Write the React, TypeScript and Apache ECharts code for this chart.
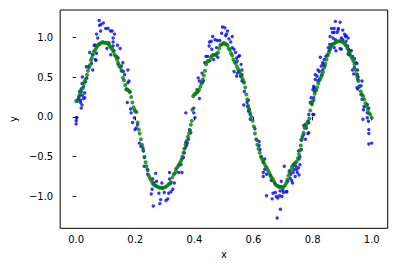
import React, { useEffect, useRef } from "react";
import * as echarts from "echarts";

// Noisy samples (blue)
const noisyPoints: number[][] = [
  [0.000,-0.01],[0.000,-0.05],[0.000,-0.09],[0.003,-0.01],[0.006,0.22],[0.009,0.24],[0.012,0.27],[0.012,0.32],
  [0.015,0.21],[0.015,0.18],[0.017,0.35],[0.017,0.11],[0.020,0.15],[0.020,0.42],[0.021,0.50],[0.021,0.27],
  [0.025,0.38],[0.025,0.23],[0.029,0.30],[0.029,0.24],[0.032,0.44],[0.034,0.63],[0.036,0.49],[0.042,0.63],
  [0.046,0.81],[0.052,0.67],[0.056,0.78],[0.056,0.59],[0.061,0.90],[0.065,0.90],[0.065,0.72],[0.067,0.71],
  [0.069,1.04],[0.069,0.80],[0.073,0.99],[0.078,1.21],[0.079,1.15],[0.083,1.08],[0.084,1.16],[0.092,1.18],
  [0.100,1.11],[0.104,0.86],[0.108,1.11],[0.111,0.93],[0.116,1.08],[0.117,0.78],[0.122,1.08],[0.125,0.99],
  [0.125,0.94],[0.125,0.89],[0.128,0.83],[0.130,1.04],[0.137,0.76],[0.142,0.74],[0.140,0.90],[0.149,0.86],
  [0.142,0.66],[0.153,0.64],[0.153,0.58],[0.158,0.68],[0.160,0.57],[0.164,0.53],[0.170,0.34],[0.175,0.59],
  [0.175,0.43],[0.179,0.45],[0.181,0.32],[0.173,0.18],[0.184,0.10],[0.186,0.05],[0.191,-0.07],[0.197,-0.01],
  [0.199,-0.16],[0.203,-0.14],[0.208,-0.10],[0.214,-0.33],[0.219,-0.37],[0.226,-0.39],[0.228,-0.43],[0.231,-0.51],
  [0.230,-0.62],[0.241,-0.66],[0.242,-0.72],[0.254,-0.97],[0.257,-0.91],[0.259,-0.78],[0.261,-1.12],[0.263,-0.83],
  [0.269,-0.87],[0.269,-0.71],[0.272,-0.81],[0.280,-0.96],[0.283,-1.09],[0.286,-1.04],[0.290,-0.83],[0.292,-0.89],
  [0.298,-0.95],[0.304,-1.05],[0.310,-1.03],[0.313,-0.96],[0.316,-0.70],[0.316,-0.78],[0.321,-0.94],[0.327,-0.91],
  [0.319,-0.83],[0.332,-0.83],[0.338,-0.65],[0.347,-0.70],[0.347,-0.60],[0.355,-0.60],[0.358,-0.53],[0.358,-0.70],
  [0.363,-0.51],[0.366,-0.45],[0.369,-0.39],[0.371,-0.32],[0.374,-0.36],[0.376,-0.33],[0.380,-0.28],[0.371,0.05],
  [0.384,-0.16],[0.388,-0.20],[0.398,0.05],[0.398,0.11],[0.402,-0.01],[0.409,0.34],[0.413,0.49],[0.417,0.23],
  [0.417,0.45],[0.426,0.43],[0.431,0.45],[0.426,0.55],[0.435,0.68],[0.439,0.76],[0.445,0.76],[0.450,0.89],
  [0.451,0.94],[0.457,0.95],[0.459,0.85],[0.462,1.01],[0.465,0.72],[0.470,0.97],[0.473,0.78],[0.475,0.87],
  [0.478,0.96],[0.479,0.75],[0.486,0.96],[0.492,1.05],[0.495,1.13],[0.503,1.12],[0.506,1.02],[0.512,1.08],
  [0.508,1.04],[0.517,0.98],[0.523,0.94],[0.528,1.01],[0.528,0.87],[0.534,0.85],[0.539,0.81],[0.543,0.74],
  [0.545,0.70],[0.550,0.76],[0.553,0.77],[0.534,0.57],[0.543,0.51],[0.545,0.55],[0.550,0.57],[0.556,0.51],
  [0.558,0.66],[0.561,0.59],[0.561,0.53],[0.561,0.45],[0.567,0.44],[0.569,0.32],[0.567,0.15],[0.578,0.18],
  [0.583,0.21],[0.580,0.13],[0.586,0.09],[0.583,0.07],[0.589,0.03],[0.589,-0.03],[0.605,-0.15],[0.611,-0.29],
  [0.619,-0.31],[0.619,-0.36],[0.622,-0.41],[0.627,-0.50],[0.638,-0.53],[0.633,-0.57],[0.638,-0.66],[0.633,-0.70],
  [0.633,-0.75],[0.644,-0.72],[0.657,-0.74],[0.660,-0.80],[0.666,-0.96],[0.671,-0.83],[0.644,-0.99],[0.663,-1.03],
  [0.674,-0.95],[0.677,-1.00],[0.682,-1.02],[0.688,-0.99],[0.680,-1.27],[0.691,-1.16],[0.690,-0.93],[0.699,-0.92],
  [0.701,-0.95],[0.710,-0.94],[0.686,-0.87],[0.696,-1.00],[0.694,-0.81],[0.704,-0.62],[0.713,-0.94],[0.716,-0.81],
  [0.721,-0.68],[0.724,-0.77],[0.726,-0.72],[0.729,-0.80],[0.732,-0.83],[0.734,-0.70],[0.737,-0.66],[0.735,-0.60],
  [0.741,-0.75],[0.743,-0.62],[0.746,-0.66],[0.748,-0.70],[0.752,-0.64],[0.754,-0.73],[0.752,-0.43],[0.754,-0.53],
  [0.757,-0.50],[0.757,-0.60],[0.762,-0.41],[0.761,-0.29],[0.765,-0.26],[0.770,-0.22],[0.776,-0.28],[0.784,-0.21],
  [0.787,-0.20],[0.774,-0.10],[0.779,-0.14],[0.770,-0.11],[0.784,-0.055],[0.787,-0.075],[0.787,0.03],[0.801,0.03],
  [0.804,0.03],[0.792,0.18],[0.798,0.155],[0.795,0.24],[0.804,0.24],[0.801,0.34],[0.807,0.32],[0.812,0.34],
  [0.804,0.385],[0.804,0.365],[0.809,0.47],[0.809,0.53],[0.815,0.51],[0.818,0.45],[0.823,0.47],[0.818,0.59],
  [0.823,0.57],[0.829,0.64],[0.834,0.59],[0.831,0.53],[0.834,0.68],[0.839,0.72],[0.826,0.75],[0.836,0.66],
  [0.842,0.64],[0.845,0.76],[0.850,0.78],[0.856,0.83],[0.853,0.87],[0.861,0.87],[0.864,0.91],[0.858,0.91],
  [0.859,1.01],[0.864,1.11],[0.867,1.06],[0.869,0.99],[0.873,1.11],[0.873,1.06],[0.877,0.97],[0.873,0.87],
  [0.877,1.20],[0.886,1.09],[0.883,1.06],[0.893,1.19],[0.887,1.11],[0.879,0.83],[0.893,0.86],[0.897,0.99],
  [0.897,0.85],[0.902,0.97],[0.902,1.09],[0.908,1.04],[0.911,1.01],[0.913,0.95],[0.914,1.02],[0.919,0.89],
  [0.920,0.99],[0.921,0.85],[0.920,0.79],[0.924,0.78],[0.926,0.83],[0.931,0.83],[0.935,0.76],[0.935,0.59],
  [0.939,0.54],[0.941,0.62],[0.942,0.73],[0.946,0.68],[0.950,0.67],[0.952,0.59],[0.952,0.53],[0.954,0.50],
  [0.953,0.47],[0.953,0.35],[0.958,0.385],[0.950,0.365],[0.967,0.45],[0.964,0.39],[0.963,0.28],[0.967,0.22],
  [0.974,0.13],[0.972,0.09],[0.985,0.155],[0.990,0.11],[0.985,0.05],[0.970,-0.03],[0.985,-0.01],[0.989,-0.055],
  [0.990,-0.16],[0.990,-0.21],[0.990,-0.34],[1.000,-0.33],
];

// Smoothed samples (green)
const smoothPoints: number[][] = [
  [0.000,0.20],[0.005,0.20],[0.010,0.26],[0.014,0.30],[0.018,0.32],[0.022,0.36],[0.026,0.42],[0.029,0.45],
  [0.033,0.48],[0.037,0.53],[0.040,0.58],[0.043,0.62],[0.046,0.65],[0.050,0.71],[0.053,0.74],[0.056,0.78],
  [0.060,0.82],[0.064,0.84],[0.068,0.87],[0.072,0.89],[0.076,0.91],[0.080,0.92],[0.085,0.93],[0.090,0.94],
  [0.095,0.93],[0.100,0.93],[0.105,0.93],[0.110,0.91],[0.114,0.89],[0.118,0.87],[0.122,0.85],[0.126,0.82],
  [0.130,0.78],[0.134,0.76],[0.138,0.72],[0.142,0.68],[0.146,0.64],[0.150,0.62],[0.154,0.58],[0.158,0.49],
  [0.162,0.46],[0.166,0.40],[0.170,0.35],[0.174,0.34],[0.178,0.33],[0.182,0.31],[0.186,0.25],[0.190,0.18],
  [0.194,0.12],[0.197,0.09],[0.200,0.07],[0.204,0.06],[0.208,-0.07],[0.212,-0.16],[0.215,-0.21],[0.219,-0.28],
  [0.223,-0.35],[0.227,-0.42],[0.231,-0.50],[0.235,-0.57],[0.238,-0.62],[0.242,-0.67],[0.246,-0.74],[0.250,-0.77],
  [0.254,-0.80],[0.258,-0.83],[0.262,-0.85],[0.267,-0.86],[0.272,-0.87],[0.277,-0.88],[0.282,-0.89],[0.287,-0.89],
  [0.292,-0.89],[0.297,-0.89],[0.302,-0.88],[0.307,-0.87],[0.312,-0.85],[0.317,-0.84],[0.321,-0.82],[0.326,-0.76],
  [0.330,-0.72],[0.334,-0.71],[0.338,-0.68],[0.343,-0.63],[0.347,-0.61],[0.351,-0.58],[0.355,-0.55],[0.359,-0.50],
  [0.363,-0.45],[0.366,-0.40],[0.370,-0.35],[0.374,-0.30],[0.378,-0.25],[0.382,-0.21],[0.385,-0.17],[0.388,-0.10],
  [0.391,-0.05],[0.393,0.09],[0.396,0.26],[0.400,0.28],[0.404,0.29],[0.408,0.31],[0.412,0.32],[0.416,0.34],
  [0.420,0.38],[0.424,0.42],[0.428,0.47],[0.432,0.52],[0.436,0.58],[0.440,0.66],[0.444,0.70],[0.448,0.70],
  [0.452,0.71],[0.456,0.75],[0.460,0.77],[0.465,0.78],[0.470,0.78],[0.475,0.79],[0.480,0.81],[0.484,0.86],
  [0.488,0.90],[0.492,0.91],[0.496,0.92],[0.500,0.93],[0.504,0.92],[0.508,0.91],[0.512,0.90],[0.516,0.86],
  [0.520,0.84],[0.524,0.80],[0.528,0.77],[0.532,0.72],[0.536,0.69],[0.540,0.67],[0.544,0.63],[0.548,0.60],
  [0.552,0.57],[0.556,0.54],[0.560,0.50],[0.564,0.47],[0.568,0.43],[0.572,0.37],[0.576,0.28],[0.579,0.22],
  [0.582,0.14],[0.585,0.10],[0.589,0.05],[0.593,0.00],[0.597,-0.05],[0.601,-0.12],[0.605,-0.21],[0.609,-0.28],
  [0.613,-0.35],[0.617,-0.40],[0.621,-0.45],[0.625,-0.50],[0.629,-0.53],[0.633,-0.56],[0.637,-0.59],[0.641,-0.62],
  [0.645,-0.64],[0.649,-0.67],[0.653,-0.70],[0.657,-0.73],[0.661,-0.76],[0.665,-0.78],[0.669,-0.81],[0.673,-0.84],
  [0.677,-0.86],[0.682,-0.87],[0.687,-0.88],[0.692,-0.88],[0.697,-0.88],[0.702,-0.88],[0.707,-0.86],[0.711,-0.83],
  [0.714,-0.79],[0.718,-0.74],[0.722,-0.70],[0.726,-0.67],[0.730,-0.63],[0.734,-0.61],[0.738,-0.59],[0.742,-0.58],
  [0.746,-0.56],[0.750,-0.52],[0.754,-0.47],[0.757,-0.42],[0.760,-0.36],[0.763,-0.29],[0.766,-0.24],[0.769,-0.20],
  [0.773,-0.14],[0.777,-0.11],[0.781,-0.08],[0.785,-0.06],[0.789,-0.02],[0.792,0.08],[0.795,0.17],[0.799,0.19],
  [0.803,0.21],[0.807,0.29],[0.811,0.33],[0.815,0.37],[0.819,0.42],[0.823,0.46],[0.827,0.49],[0.831,0.52],
  [0.835,0.56],[0.839,0.62],[0.843,0.67],[0.847,0.72],[0.851,0.77],[0.855,0.81],[0.859,0.85],[0.863,0.89],
  [0.867,0.91],[0.871,0.92],[0.876,0.93],[0.881,0.94],[0.886,0.95],[0.891,0.95],[0.896,0.95],[0.901,0.94],
  [0.906,0.93],[0.910,0.91],[0.914,0.89],[0.918,0.86],[0.922,0.82],[0.926,0.79],[0.930,0.76],[0.934,0.73],
  [0.938,0.70],[0.942,0.66],[0.945,0.59],[0.948,0.54],[0.951,0.50],[0.955,0.45],[0.959,0.38],[0.963,0.32],
  [0.967,0.28],[0.971,0.26],[0.975,0.22],[0.979,0.17],[0.983,0.13],[0.987,0.09],[0.991,0.05],[0.995,0.03],
  [1.000,-0.01],
];

const xTicks = [0, 0.2, 0.4, 0.6, 0.8, 1.0];
const yTicks = [-1.0, -0.5, 0, 0.5, 1.0];

const fmt = (v: number) => (v < 0 ? "\u2212" + Math.abs(v).toFixed(1) : v.toFixed(1));

export default function App() {
  const ref = useRef<HTMLDivElement>(null);
  useEffect(() => {
    if (!ref.current) return;
    const chart = echarts.init(ref.current, null, { renderer: "svg" });
    const font = "DejaVu Sans";
    chart.setOption({
      animation: false,
      backgroundColor: "#ffffff",
      textStyle: { fontFamily: font },
      grid: {
        left: 52,
        top: 10,
        right: 9.3,
        bottom: 37.7,
        show: true,
        borderColor: "#000000",
        borderWidth: 1,
        backgroundColor: "transparent",
      },
      xAxis: {
        type: "value",
        min: -0.054,
        max: 1.054,
        name: "x",
        nameLocation: "middle",
        nameGap: 18,
        nameTextStyle: { fontFamily: font, fontSize: 10, color: "#000" },
        axisLine: { show: false },
        splitLine: { show: false },
        axisTick: {
          show: true,
          inside: false,
          length: 3.5,
          customValues: xTicks,
          lineStyle: { color: "#000", width: 1 },
        },
        axisLabel: {
          customValues: xTicks,
          margin: 6,
          fontFamily: font,
          fontSize: 10,
          color: "#000",
          formatter: (v: number) => fmt(v),
        },
      },
      yAxis: {
        type: "value",
        min: -1.40,
        max: 1.343,
        name: "y",
        nameLocation: "middle",
        nameGap: 39,
        nameRotate: 90,
        nameTextStyle: { fontFamily: font, fontSize: 10, color: "#000" },
        axisLine: { show: false },
        splitLine: { show: false },
        axisTick: {
          show: true,
          inside: false,
          length: 3.5,
          customValues: yTicks,
          lineStyle: { color: "#000", width: 1 },
        },
        axisLabel: {
          customValues: yTicks,
          margin: 7,
          fontFamily: font,
          fontSize: 10,
          color: "#000",
          formatter: (v: number) => fmt(v),
        },
      },
      series: [
        {
          name: "noisy",
          type: "scatter",
          data: noisyPoints,
          symbol: "circle",
          symbolSize: 3.4,
          itemStyle: { color: "#0000ff" },
          silent: true,
        },
        {
          name: "smooth",
          type: "scatter",
          data: smoothPoints,
          symbol: "circle",
          symbolSize: 4,
          itemStyle: { color: "#008000" },
          silent: true,
        },
      ],
    });
    return () => chart.dispose();
  }, []);
  return (
    <div
      ref={ref}
      style={{ position: "absolute", left: 0, top: 0, width: 397, height: 266 }}
    />
  );
}
